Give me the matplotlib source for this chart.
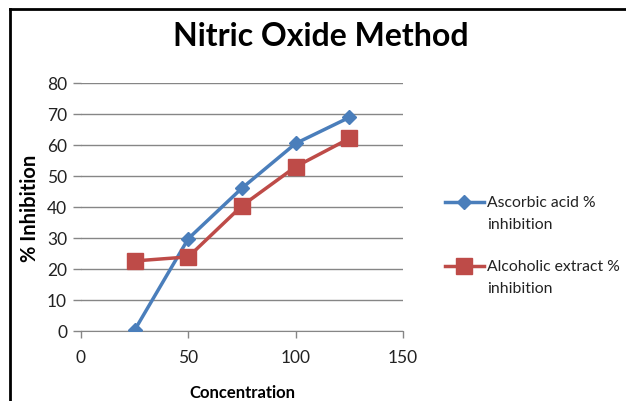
import matplotlib
matplotlib.use("Agg")
import matplotlib.pyplot as plt
from matplotlib.lines import Line2D

concentration = [25, 50, 75, 100, 125]
ascorbic = [0.3, 29.8, 46.1, 60.5, 68.9]
alcoholic = [22.6, 23.9, 40.4, 53.0, 62.1]
x_ticks = [0, 50, 100, 150]
y_ticks = [0, 10, 20, 30, 40, 50, 60, 70, 80]
labels = ["Ascorbic acid %\ninhibition", "Alcoholic extract %\ninhibition"]

plt.rcParams['font.family'] = ['Lato', 'DejaVu Sans']

W, H = 626, 402
fig = plt.figure(figsize=(W/100, H/100), dpi=100)
ax = fig.add_axes([81/W, (H-332)/H, (403-81)/W, (332-84)/H])

blue = '#4A7EBB'
red = '#BE4B48'
grid = '#868686'

l1, = ax.plot(concentration, ascorbic, color=blue, lw=2.5, marker='D', ms=7.5,
              label=labels[0], zorder=3)
l2, = ax.plot(concentration, alcoholic, color=red, lw=2.5, marker='s', ms=11,
              label=labels[1], zorder=3)

ax.set_xlim(0, 150)
ax.set_ylim(0, 80)
ax.set_xticks(x_ticks)
ax.set_yticks(y_ticks)
ax.yaxis.grid(True, color=grid, lw=1)
ax.set_axisbelow(True)
for s in ['top', 'right', 'left']:
    ax.spines[s].set_visible(False)
ax.spines['bottom'].set_color(grid)
ax.tick_params(axis='x', colors=grid, length=5, width=1, direction='out',
               labelcolor='#222222', labelsize=12.5, pad=8)
ax.tick_params(axis='y', colors=grid, length=6, width=1, direction='out',
               labelcolor='#222222', labelsize=12.5, pad=4)

ax.set_xlabel('Concentration', fontsize=12, fontweight='bold', labelpad=14)
ax.set_ylabel('% Inhibition', fontsize=14.5, fontweight='bold', labelpad=5)
fig.text(321/W, 1-36/H, 'Nitric Oxide Method', ha='center', va='center',
         fontsize=23, fontweight='bold')

# legend (handle aligned with first text line, as in the reference)
entries = [(l1, labels[0], 203), (l2, labels[1], 267)]
for line, text, ypix in entries:
    yf = 1 - ypix/H
    fig.add_artist(Line2D([445/W, 484/W], [yf, yf], color=line.get_color(), lw=2.5,
                          transform=fig.transFigure))
    fig.add_artist(Line2D([464.5/W], [yf], color=line.get_color(), lw=0,
                          marker=line.get_marker(), ms=line.get_markersize(),
                          transform=fig.transFigure))
    fig.text(487/W, yf + 7/H, text, ha='left', va='top', fontsize=11.3,
             color='#222222', linespacing=1.7, transform=fig.transFigure)

# outer border (top and left only visible)
fig.add_artist(Line2D([10/W, 1.0], [1-10/H, 1-10/H], color='black', lw=2,
                      transform=fig.transFigure))
fig.add_artist(Line2D([10/W, 10/W], [0, 1-10/H], color='black', lw=2,
                      transform=fig.transFigure))

fig.savefig('out.png', dpi=100)
